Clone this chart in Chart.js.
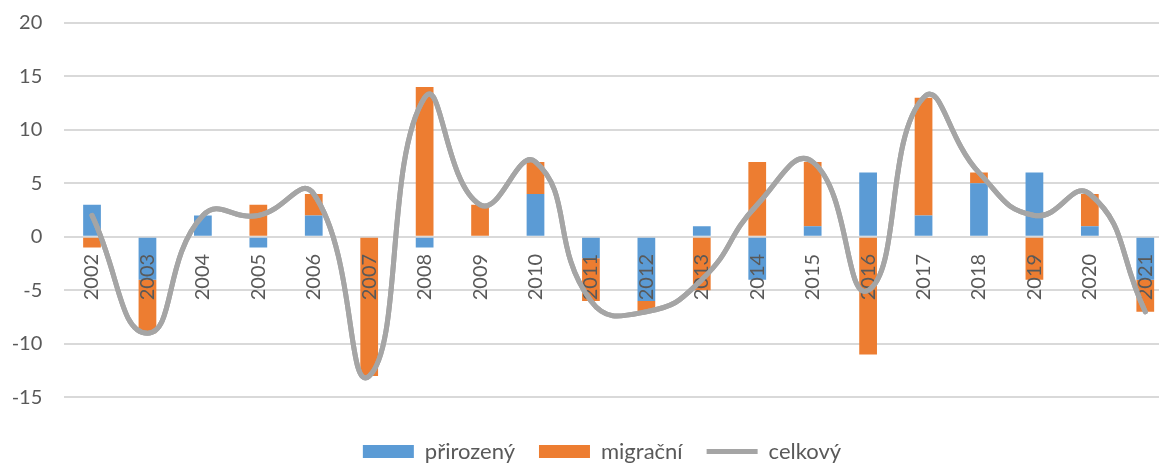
<!DOCTYPE html>
<html>
<head>
<meta charset="utf-8">
<script src="https://cdn.jsdelivr.net/npm/chart.js@4/dist/chart.umd.min.js"></script>
<style>
  html, body { margin: 0; padding: 0; overflow: hidden; background: #ffffff; }
  #wrap { width: 1204px; height: 463px; position: relative; }
</style>
</head>
<body>
<div id="wrap"><canvas id="c"></canvas></div>
<script>
const categories = ['2002','2003','2004','2005','2006','2007','2008','2009','2010','2011','2012','2013','2014','2015','2016','2017','2018','2019','2020','2021'];
const prirozeny = [3, -4, 2, -1, 2, 0, -1, 0, 4, -2, -6, 1, -4, 1, 6, 2, 5, 6, 1, -4];
const migracni  = [-1, -5, 0, 3, 2, -13, 14, 3, 3, -4, -1, -5, 7, 6, -11, 11, 1, -4, 3, -3];
const celkovy   = [2, -9, 2, 2, 4, -13, 13, 3, 7, -6, -7, -4, 3, 7, -5, 13, 6, 2, 4, -7];
const yTicks = [-15, -10, -5, 0, 5, 10, 15, 20];

const FONT = 'Lato';
const TXT = '#595959';

const lineOnTop = {
  id: 'lineOnTop',
  afterLayout(chart) {
    const lg = chart.legend;
    if (lg) { lg.left += 15.5; lg.right += 15.5; }
  },
  afterDraw(chart) {
    const meta = chart.getDatasetMeta(2);
    const ctx = chart.ctx;
    ctx.save();
    const a = chart.chartArea;
    ctx.beginPath();
    ctx.rect(a.left - 10, a.top - 10, a.right - a.left + 20, a.bottom - a.top + 20);
    ctx.clip();
    meta.controller.draw();
    ctx.restore();
  }
};

new Chart(document.getElementById('c'), {
  type: 'bar',
  data: {
    labels: categories,
    datasets: [
      { label: 'přirozený', data: prirozeny, backgroundColor: '#5B9BD5', borderWidth: 0,
        categoryPercentage: 0.32, barPercentage: 1, order: 2 },
      { label: 'migrační', data: migracni, backgroundColor: '#ED7D31', borderWidth: 0,
        categoryPercentage: 0.32, barPercentage: 1, order: 2 },
      { type: 'line', label: 'celkový', data: celkovy, borderColor: '#A5A5A5', backgroundColor: '#A5A5A5',
        borderWidth: 5, pointRadius: 0, tension: 0.5, fill: false, order: 1, borderCapStyle: 'round' }
    ]
  },
  options: {
    responsive: true,
    maintainAspectRatio: false,
    animation: false,
    layout: { padding: { top: 22.7, left: 0, right: 31, bottom: -9.5 } },
    scales: {
      x: {
        stacked: true,
        position: { y: 0 },
        grid: { display: false, drawTicks: false },
        border: { display: false },
        ticks: { z: 1, color: TXT, font: { family: FONT, size: 20 }, minRotation: 90, maxRotation: 90, padding: 17, autoSkip: false }
      },
      y: {
        stacked: true,
        min: -16.78, max: 20,
        grid: { color: '#D9D9D9', lineWidth: 2, drawTicks: false },
        border: { display: false },
        ticks: { color: TXT, font: { family: FONT, size: 20 }, stepSize: 5, padding: 22 },
        afterBuildTicks(scale) { scale.ticks = yTicks.map(v => ({ value: v })); },
        afterFit(scale) { scale.width = 64.3; scale.paddingTop = 0; scale.paddingBottom = 0; }
      }
    },
    plugins: {
      tooltip: { enabled: false },
      legend: {
        position: 'bottom',
        labels: {
          color: TXT,
          font: { family: FONT, size: 22 },
          usePointStyle: true,
          pointStyleWidth: 51,
          boxHeight: 13,
          padding: 24,
          generateLabels(chart) {
            const items = Chart.defaults.plugins.legend.labels.generateLabels(chart);
            items.sort((a, b) => a.datasetIndex - b.datasetIndex);
            items.forEach(it => {
              if (it.datasetIndex === 2) { it.pointStyle = 'line'; it.lineWidth = 5; it.strokeStyle = '#A5A5A5'; }
              else { it.pointStyle = 'rect'; it.lineWidth = 0; }
            });
            return items;
          }
        }
      }
    }
  },
  plugins: [lineOnTop]
});
</script>
</body>
</html>
